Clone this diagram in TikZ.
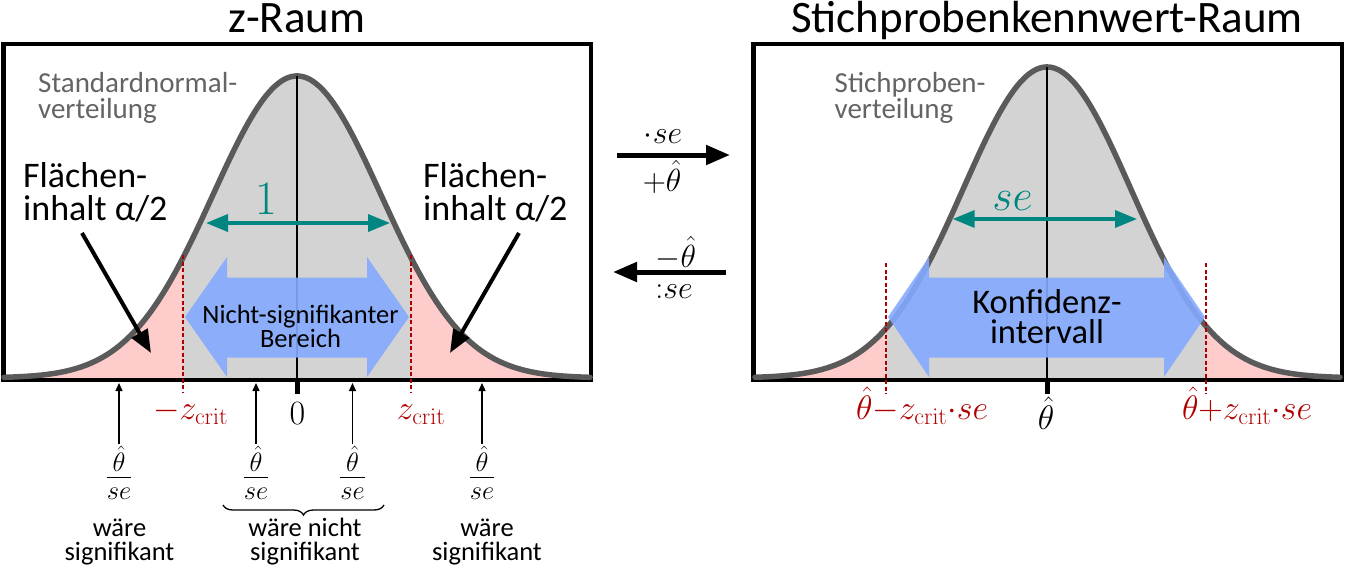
\RequirePackage{fix-cm}
\documentclass[tikz,border=0pt]{standalone}
\usepackage[no-math]{fontspec}
\setmainfont{Carlito}
\usetikzlibrary{arrows.meta,decorations.pathreplacing}
\definecolor{curvegray}{RGB}{90,90,90}
\definecolor{fillgray}{RGB}{211,211,211}
\definecolor{tailpink}{RGB}{255,204,204}
\definecolor{ciblue}{RGB}{133,170,255}
\definecolor{tealc}{RGB}{0,134,128}
\definecolor{critred}{RGB}{175,0,0}
\definecolor{labelgray}{RGB}{100,100,100}
\begin{document}
\begin{tikzpicture}[x=1pt,y=-1pt,
  declare function={gl(\x)=378-302*exp(-0.5*((\x-297)/84)^2);
                    gr(\x)=378-311*exp(-0.5*((\x-1047)/84)^2);},
  boxline/.style={line width=4.5pt},
  curve/.style={draw=curvegray,line width=5.5pt,line cap=round},
  axisline/.style={line width=2pt},
  tickmark/.style={line width=5pt},
  critline/.style={draw=critred,line width=2pt,dash pattern=on 4pt off 2.5pt},
  ciarrow/.style={fill=ciblue,fill opacity=0.9},
  sdarrow/.style={draw=tealc,line width=3.5pt,{Triangle[length=22pt,width=17pt]}-{Triangle[length=22pt,width=17pt]}},
  blackarrow/.style={line width=4pt,-{Triangle[length=23pt,width=18pt]}},
  bigarrow/.style={line width=5pt,-{Triangle[length=24pt,width=19pt]}},
  thinarrow/.style={line width=1.3pt,-{Triangle[length=8pt,width=7pt]}},
  titletext/.style={font=\fontsize{45}{50}\selectfont,inner sep=0pt,anchor=base},
  distlabel/.style={font=\fontsize{29}{26}\selectfont,text=labelgray,align=left,inner sep=0pt,anchor=base west},
  areatext/.style={font=\fontsize{36}{33}\selectfont,align=left,inner sep=0pt,anchor=base west},
  nstext/.style={font=\fontsize{26.5}{24}\selectfont,align=center,inner sep=0pt,anchor=base},
  kitext/.style={font=\fontsize{34.5}{30}\selectfont,align=center,inner sep=0pt,anchor=base},
  sdlabel/.style={text=tealc,inner sep=0pt,anchor=base},
  mathlabel/.style={font=\fontsize{34}{36}\selectfont,inner sep=0pt,anchor=base},
  critlabel/.style={mathlabel,text=critred},
  oplabel/.style={font=\fontsize{32}{34}\selectfont,inner sep=0pt,anchor=base},
  fraclabel/.style={font=\fontsize{38}{40}\selectfont,inner sep=2pt,anchor=base},
  verdict/.style={font=\fontsize{26.5}{24}\selectfont,align=center,inner sep=0pt,anchor=base},
  bracedeco/.style={line width=1.3pt,decorate,decoration={brace,mirror,amplitude=10pt}}
]
\useasboundingbox (0,0) rectangle (1345,568);

% ---------- left panel: z-Raum ----------
\fill[tailpink] (4,378) -- plot[domain=4:183,samples=60] (\x,{gl(\x)}) -- (183,378) -- cycle;
\fill[fillgray] (183,378) -- plot[domain=183:411,samples=90] (\x,{gl(\x)}) -- (411,378) -- cycle;
\fill[tailpink] (411,378) -- plot[domain=411:590,samples=60] (\x,{gl(\x)}) -- (590,378) -- cycle;
\draw[boxline] (3.5,44) rectangle (591,380);
\draw[curve] plot[domain=4:590,samples=200] (\x,{gl(\x)});
\draw[axisline] (297,{gl(297)}) -- (297,380);
\fill[ciarrow] (185,317) -- (227,257) -- (227,277.5) -- (367,277.5) -- (367,257) -- (409,317)
  -- (367,377) -- (367,357.5) -- (227,357.5) -- (227,377) -- cycle;
\draw[critline] (183,255) -- (183,392);
\draw[critline] (411,255) -- (411,392);
\draw[tickmark] (297,380) -- (297,394);
\coordinate (sdla) at (206,223);
\coordinate (sdlb) at (390,223);
\draw[sdarrow] (sdla) -- (sdlb);
\node[sdlabel,font=\fontsize{48}{50}\selectfont] (one) at (266,214) {$1$};

\node[titletext] (tz) at (297,32) {z-Raum};
\node[distlabel] (sn) at (38,118) {Standardnormal-\\verteilung};
\node[areatext] (al) at (23,220) {Flächen-\\inhalt α/2};
\node[areatext] (ar) at (423,220) {Flächen-\\inhalt α/2};
\coordinate (als) at (82,233);
\coordinate (ale) at (151,353);
\coordinate (ars) at (519,233);
\coordinate (are) at (450,353);
\draw[blackarrow] (als) -- (ale);
\draw[blackarrow] (ars) -- (are);
\node[nstext] (ns) at (300.5,347) {Nicht-signifikanter\\Bereich};

\node[critlabel] (mzc) at (190.6,419) {$-z_{\mathrm{crit}}$};
\node[mathlabel] (zero) at (297.5,424.5) {$0$};
\node[critlabel] (pzc) at (421,419) {$z_{\mathrm{crit}}$};

% fractions and arrows
\node[fraclabel] (f1) at (119,486.5) {$\frac{\hat\theta}{se}$};
\node[fraclabel] (f2) at (256,486.5) {$\frac{\hat\theta}{se}$};
\node[fraclabel] (f3) at (352.5,486.5) {$\frac{\hat\theta}{se}$};
\node[fraclabel] (f4) at (482,486.5) {$\frac{\hat\theta}{se}$};
\coordinate (t1) at (119,383);
\coordinate (t2) at (256,383);
\coordinate (t3) at (352.5,383);
\coordinate (t4) at (482,383);
\draw[thinarrow] (f1.north) -- (t1);
\draw[thinarrow] (f2.north) -- (t2);
\draw[thinarrow] (f3.north) -- (t3);
\draw[thinarrow] (f4.north) -- (t4);
\coordinate (bl) at (223,505);
\coordinate (br) at (384,505);
\draw[bracedeco] (bl) -- (br);
\node[verdict] (v1) at (119.5,560) {wäre\\signifikant};
\node[verdict] (v2) at (305,560) {wäre nicht\\signifikant};
\node[verdict] (v3) at (487,560) {wäre\\signifikant};

% ---------- middle arrows ----------
\coordinate (m1a) at (617,155);
\coordinate (m1b) at (730,155);
\draw[bigarrow] (m1a) -- (m1b);
\node[oplabel] (o1) at (663,143) {$\cdot se$};
\node[oplabel] (o2) at (662,191) {$+\hat\theta$};
\coordinate (m2a) at (726,272);
\coordinate (m2b) at (613,272);
\draw[bigarrow] (m2a) -- (m2b);
\node[oplabel] (o3) at (676,267) {$-\hat\theta$};
\node[oplabel] (o4) at (674,298) {${:}se$};

% ---------- right panel ----------
\fill[tailpink] (755,378) -- plot[domain=755:885.5,samples=60] (\x,{gr(\x)}) -- (885.5,378) -- cycle;
\fill[fillgray] (885.5,378) -- plot[domain=885.5:1206,samples=100] (\x,{gr(\x)}) -- (1206,378) -- cycle;
\fill[tailpink] (1206,378) -- plot[domain=1206:1340,samples=60] (\x,{gr(\x)}) -- (1340,378) -- cycle;
\draw[boxline] (753.5,44) rectangle (1342,380);
\draw[curve] plot[domain=755:1340,samples=200] (\x,{gr(\x)});
\draw[axisline] (1047,{gr(1047)}) -- (1047,380);
\fill[ciarrow] (888,317) -- (929,257) -- (929,277.5) -- (1164,277.5) -- (1164,257) -- (1205,317)
  -- (1164,377) -- (1164,357.5) -- (929,357.5) -- (929,377) -- cycle;
\draw[critline] (885.5,263) -- (885.5,394);
\draw[critline] (1206,263) -- (1206,394);
\draw[tickmark] (1047,380) -- (1047,394);
\coordinate (sdra) at (952.7,219);
\coordinate (sdrb) at (1137,219);
\draw[sdarrow] (sdra) -- (sdrb);
\node[sdlabel,font=\fontsize{44}{46}\selectfont] (se) at (1012.5,210) {$se$};

\node[titletext] (ts) at (1047,32) {Stichprobenkennwert-Raum};
\node[distlabel] (sp) at (834.5,118) {Stichproben-\\verteilung};
\node[kitext] (ki) at (1047,343) {Konfidenz-\\intervall};

\node[critlabel] (lo) at (922,419) {$\hat\theta{-}z_{\mathrm{crit}}{\cdot}se$};
\node[mathlabel] (th) at (1046,429) {$\hat\theta$};
\node[critlabel] (hi) at (1247,419) {$\hat\theta{+}z_{\mathrm{crit}}{\cdot}se$};
\end{tikzpicture}
\end{document}
